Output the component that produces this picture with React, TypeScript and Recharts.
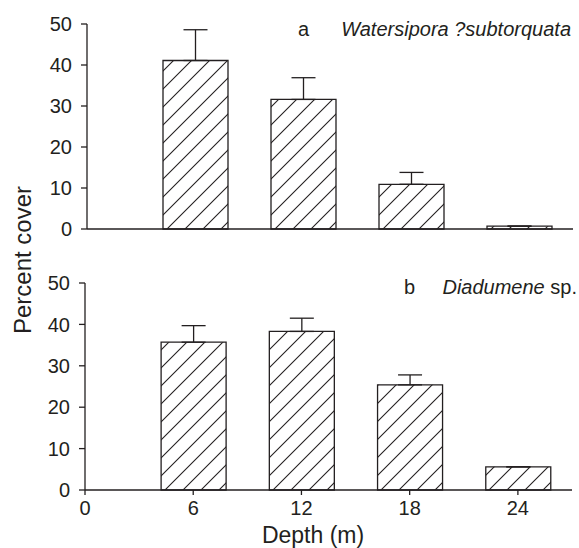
import React from "react";
import { Bar, BarChart, ErrorBar, XAxis, YAxis } from "recharts";

// depth (m) and percent cover
const depths = [6, 12, 18, 24];
const watersiporaCover = [41.1, 31.6, 10.9, 0.7];
const watersiporaSE = [7.5, 5.3, 2.9, 0];
const diadumeneCover = [35.7, 38.3, 25.4, 5.6];
const diadumeneSE = [4.0, 3.2, 2.4, 0];
const xTicks = [0, 6, 12, 18, 24];
const yTicks = [0, 10, 20, 30, 40, 50];

const INK = "#231f20";
const FONT = "'Liberation Sans', Arial, sans-serif";

const toRows = (cover: number[], se: number[]) =>
  depths.map((d, i) => ({ depth: d, cover: cover[i], err: [0, se[i]] }));

function Panel({
  rows,
  height,
  margin,
  showLabels,
}: {
  rows: { depth: number; cover: number; err: number[] }[];
  height: number;
  margin: { top: number; right: number; left: number; bottom: number };
  showLabels: boolean;
}) {
  return (
    <BarChart width={579} height={height} data={rows} margin={margin}>
      <defs>
        <pattern
          id="hatch"
          patternUnits="userSpaceOnUse"
          width={18}
          height={18}
        >
          <rect width={18} height={18} fill="#fff" />
          <path
            d="M0,18 L18,0 M-4.5,4.5 L4.5,-4.5 M13.5,22.5 L22.5,13.5"
            stroke={INK}
            strokeWidth={1.1}
          />
        </pattern>
      </defs>
      <XAxis
        dataKey="depth"
        type="number"
        domain={[0, 27]}
        ticks={xTicks}
        allowDecimals={false}
        height={showLabels ? 30 : 21}
        tick={showLabels ? { fill: INK, fontSize: 20, fontFamily: FONT } : false}
        tickSize={5}
        tickMargin={6}
        stroke={INK}
        strokeWidth={1.3}
      />
      <YAxis
        type="number"
        domain={[0, 50]}
        ticks={yTicks}
        width={40}
        tick={{ fill: INK, fontSize: 20, fontFamily: FONT }}
        tickSize={6}
        tickMargin={9}
        stroke={INK}
        strokeWidth={1.3}
      />
      <Bar
        dataKey="cover"
        barSize={65}
        fill="url(#hatch)"
        stroke={INK}
        strokeWidth={1.3}
        isAnimationActive={false}
      >
        <ErrorBar
          dataKey="err"
          direction="y"
          width={12}
          stroke={INK}
          strokeWidth={1.3}
          isAnimationActive={false}
        />
      </Bar>
    </BarChart>
  );
}

export default function App() {
  return (
    <div
      style={{
        position: "absolute",
        left: 0,
        top: 0,
        width: 579,
        height: 548,
        background: "#fff",
        fontFamily: FONT,
      }}
    >
      <div style={{ position: "absolute", left: 0, top: 0 }}>
        <Panel
          rows={toRows(watersiporaCover, watersiporaSE)}
          height={250}
          margin={{ top: 24, right: 6, left: 47, bottom: 0 }}
          showLabels={false}
        />
      </div>
      <div style={{ position: "absolute", left: 0, top: 259 }}>
        <Panel
          rows={toRows(diadumeneCover, diadumeneSE)}
          height={289}
          margin={{ top: 24, right: 7, left: 45, bottom: 28 }}
          showLabels={true}
        />
      </div>
      <svg
        width={579}
        height={548}
        style={{ position: "absolute", left: 0, top: 0, pointerEvents: "none" }}
        fontFamily={FONT}
        fill={INK}
      >
        <text x={298} y={36} fontSize={20}>
          a
        </text>
        <text x={571} y={36} fontSize={20} fontStyle="italic" textAnchor="end">
          Watersipora ?subtorquata
        </text>
        <text x={404} y={294} fontSize={20}>
          b
        </text>
        <text x={577} y={294} fontSize={20} textAnchor="end">
          <tspan fontStyle="italic">Diadumene</tspan> sp.
        </text>
        <text x={313} y={543} fontSize={23} textAnchor="middle">
          Depth (m)
        </text>
        <text
          x={0}
          y={0}
          fontSize={24}
          textAnchor="middle"
          transform="translate(31,260) rotate(-90)"
        >
          Percent cover
        </text>
      </svg>
    </div>
  );
}
